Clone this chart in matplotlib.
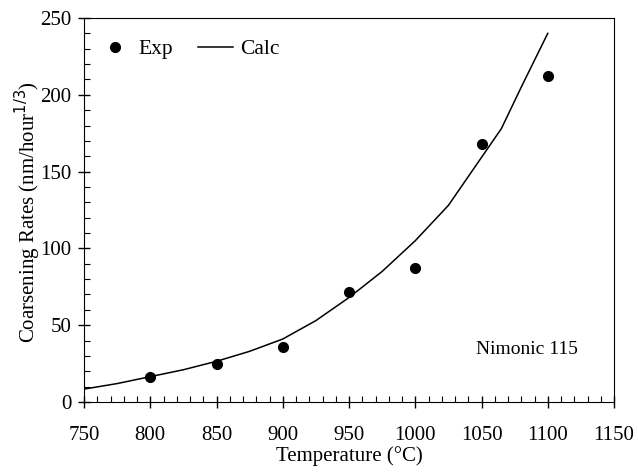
import numpy as np
import matplotlib.pyplot as plt
from matplotlib.ticker import MultipleLocator

# experimental points
exp_temp = [800, 850, 900, 950, 1000, 1050, 1100]
exp_rate = [16.5, 24.5, 35.5, 71.5, 87.5, 168, 212]

# calculated curve
calc_temp = [750, 775, 800, 825, 850, 875, 900, 925, 950, 975, 1000, 1025, 1045, 1065, 1080, 1100]
calc_rate = [8.4, 12, 16.5, 21, 26.5, 33, 41, 53, 68, 85, 105, 128, 153, 178, 205, 240]

plt.rcParams['font.family'] = ['Liberation Serif', 'DejaVu Serif']

fig = plt.figure(figsize=(6.38, 4.72), dpi=100)
ax = fig.add_axes([0.1317, 0.1483, 0.8307, 0.8136])

ax.plot(exp_temp, exp_rate, 'o', color='black', ms=7, label='Exp')
ax.plot(calc_temp, calc_rate, '-', color='black', lw=1.1, label='Calc')

ax.set_xlim(750, 1150)
ax.set_ylim(0, 250)
ax.xaxis.set_major_locator(MultipleLocator(50))
ax.xaxis.set_minor_locator(MultipleLocator(10))
ax.yaxis.set_major_locator(MultipleLocator(50))
ax.yaxis.set_minor_locator(MultipleLocator(10))
ax.tick_params(which='major', direction='inout', length=8, width=1, labelsize=15)
ax.tick_params(axis='x', which='major', pad=13)
ax.tick_params(axis='y', which='major', pad=5)
ax.tick_params(which='minor', direction='in', length=4, width=0.8)
ax.tick_params(top=False, right=False)

ax.set_xlabel('Temperature (°C)', fontsize=15, labelpad=1)
ax.set_ylabel('Coarsening Rates (nm/hour$^{1/3}$)', fontsize=15)
ax.yaxis.set_label_coords(-0.077, 0.495)

ax.text(1084, 34, 'Nimonic 115', fontsize=14, ha='center', va='center')

ax.legend(loc='upper left', ncol=2, frameon=False, fontsize=15.5,
          handlelength=1.63, handletextpad=0.3, columnspacing=1.16,
          bbox_to_anchor=(-0.012, 0.995))

plt.savefig('out.png', dpi=100)
